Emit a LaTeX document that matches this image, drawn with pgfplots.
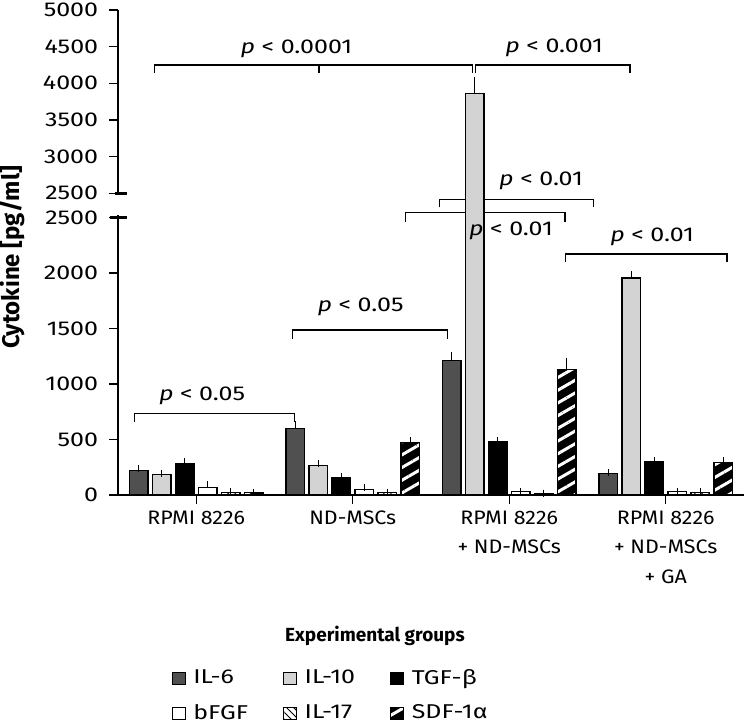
\documentclass[border=0pt]{standalone}
\usepackage{fontspec}
\setmainfont{Fira Sans}[FakeStretch=1.25]
\newfontfamily\titlefont{Fira Sans}
\newfontfamily\xtfont{Fira Sans}[FakeStretch=1.1]
\usepackage{pgfplots}
\pgfplotsset{compat=1.18}
\usepackage{pgfplotstable}
\usetikzlibrary{patterns.meta}

\definecolor{il6c}{HTML}{505050}
\definecolor{il10c}{HTML}{D3D3D3}

% cytokine levels (pg/ml), e = upper error bar
\pgfplotstableread{
g  il6   il6e  il10  il10e  tgf  tgfe  bfgf  bfgfe  il17  il17e  sdf   sdfe
0  220   15    182   11     283  18    67    25     25    6      20    6
1  600   31    265   15     160  9     52    15     20    5      475   15
2  1214  45    3856  180    484  6     29    4      14    3      1130  75
3  191   11    1954  31     301  9     29    4      20    9      290   17
}\cyto

% broken axis: 0-2500 as is, 2500-5000 squeezed above a gap
\pgfmathdeclarefunction{ybrk}{1}{\pgfmathparse{(#1>2500) ? 2718.5+(#1-2500)*0.66 : #1}}
% bracket: x1, x2, y of line, y of the feet
\newcommand{\brkt}[4]{\draw (axis cs:#1,#4) -- (axis cs:#1,#3) -- (axis cs:#2,#3) -- (axis cs:#2,#4);}
\newcommand{\fs}{\fontsize{20}{24}\selectfont}
\tikzset{pv/.style={anchor=base, font=\fs}}

\begin{document}
\fs
\begin{tikzpicture}
\begin{axis}[
    set layers, clip=false,
    scale only axis, width=626pt, height=485pt,
    ybar=4.5pt, bar width=18.5pt,
    xmin=-0.5, xmax=3.5, ymin=0, ymax=4368.5,
    axis lines=left, axis line style={-, line width=1.5pt},
    tick align=outside, major tick length=9pt,
    tick style={line width=1.2pt, black},
    tick label style={font=\fs},
    xtick={0,1,2,3},
    xticklabels={RPMI 8226, ND-MSCs, {RPMI 8226\\+ ND-MSCs}, {RPMI 8226\\+ ND-MSCs\\+ GA}},
    xticklabel style={align=center, font=\xtfont\fontsize{19.5}{29.5}\selectfont},
    ytick={0,500,1000,1500,2000,2500,2718.5,3048.5,3378.5,3708.5,4038.5,4368.5},
    yticklabels={0,500,1000,1500,2000,2500,2500,3000,3500,4000,4500,5000},
    yticklabel style={xshift=-4pt},
    xlabel={\titlefont\bfseries Experimental groups},
    xlabel style={at={(axis description cs:0.4105,-0.29)}, anchor=center, font=\fontsize{19}{22}\selectfont},
    ylabel={\titlefont\bfseries Cytokine [pg/ml]},
    ylabel style={at={(axis description cs:-0.169,0.49)}, anchor=center, font=\fontsize{24}{28}\selectfont},
    every axis plot/.append style={draw=black, line width=1.2pt},
    error bars/y dir=plus, error bars/y explicit,
    error bars/error bar style={line width=1.2pt, black},
    error bars/error mark options={line width=1.2pt, black, mark size=3.5pt},
    lg/.style={legend image code/.code={\draw[##1] (0pt,-6pt) rectangle (13pt,6pt);}},
    legend columns=3, legend cell align=left,
    legend style={draw=none, font=\fs, at={(axis description cs:0.3396,-0.4144)}, anchor=center,
        /tikz/every even column/.append style={column sep=33pt},
        /tikz/every odd column/.append style={column sep=5.5pt},
        row sep=13pt},
]
\addplot[fill=il6c, lg] table[x=g, y expr={ybrk(\thisrow{il6})},
  y error expr={ybrk(\thisrow{il6}+\thisrow{il6e})-ybrk(\thisrow{il6})}] {\cyto};
\addplot[fill=il10c, lg] table[x=g, y expr={ybrk(\thisrow{il10})},
  y error expr={ybrk(\thisrow{il10}+\thisrow{il10e})-ybrk(\thisrow{il10})}] {\cyto};
\addplot[fill=black, lg] table[x=g, y expr={ybrk(\thisrow{tgf})},
  y error expr={ybrk(\thisrow{tgf}+\thisrow{tgfe})-ybrk(\thisrow{tgf})}] {\cyto};
\addplot[fill=white, lg] table[x=g, y expr={ybrk(\thisrow{bfgf})},
  y error expr={ybrk(\thisrow{bfgf}+\thisrow{bfgfe})-ybrk(\thisrow{bfgf})}] {\cyto};
\addplot[fill=white, lg, postaction={pattern={Lines[angle=-45, distance=5pt, line width=0.9pt]}, pattern color=black}]
  table[x=g, y expr={ybrk(\thisrow{il17})},
  y error expr={ybrk(\thisrow{il17}+\thisrow{il17e})-ybrk(\thisrow{il17})}] {\cyto};
\addplot[fill=black, lg, postaction={pattern={Lines[angle=30, distance=11pt, line width=3pt]}, pattern color=white}]
  table[x=g, y expr={ybrk(\thisrow{sdf})},
  y error expr={ybrk(\thisrow{sdf}+\thisrow{sdfe})-ybrk(\thisrow{sdf})}] {\cyto};
\legend{IL-6, IL-10, TGF-β, bFGF, IL-17, SDF-1α}

\begin{pgfonlayer}{pre main}
\begin{scope}[line width=1.2pt]
\brkt{-0.267}{1.763}{3873}{3797}
\draw (axis cs:0.784,3873) -- (axis cs:0.784,3797);
\brkt{1.785}{2.772}{3873}{3797}
\brkt{1.552}{2.537}{2663}{2590}
\brkt{1.339}{2.356}{2546}{2462}
\brkt{2.361}{3.391}{2171}{2101}
\brkt{0.614}{1.606}{1486}{1405}
\brkt{-0.397}{0.629}{736}{660}
\end{scope}
\end{pgfonlayer}

\node[pv] at (axis cs:0.640,3980) {\textit{p} < 0.0001};
\node[pv] at (axis cs:2.287,3982) {\textit{p} < 0.001};
\node[pv] at (axis cs:2.203,2792) {\textit{p} < 0.01};
\node[pv] at (axis cs:2.011,2333) {\textit{p} < 0.01};
\node[pv] at (axis cs:2.913,2282) {\textit{p} < 0.01};
\node[pv] at (axis cs:1.050,1651) {\textit{p} < 0.05};
\node[pv] at (axis cs:0.037,849) {\textit{p} < 0.05};

% the break in the y axis
\draw[white, line width=4pt] ([yshift=2pt]axis cs:-0.5,2500) -- ([yshift=-2pt]axis cs:-0.5,2718.5);
\draw[line width=3pt] ([xshift=-8pt]axis cs:-0.5,2500) -- ([xshift=9pt]axis cs:-0.5,2500);
\draw[line width=3pt] ([xshift=-3pt]axis cs:-0.5,2718.5) -- ([xshift=9pt]axis cs:-0.5,2718.5);
\end{axis}
\pgfresetboundingbox
\path[use as bounding box] (-118pt,-230pt) rectangle (632pt,495pt);
\end{tikzpicture}
\end{document}
